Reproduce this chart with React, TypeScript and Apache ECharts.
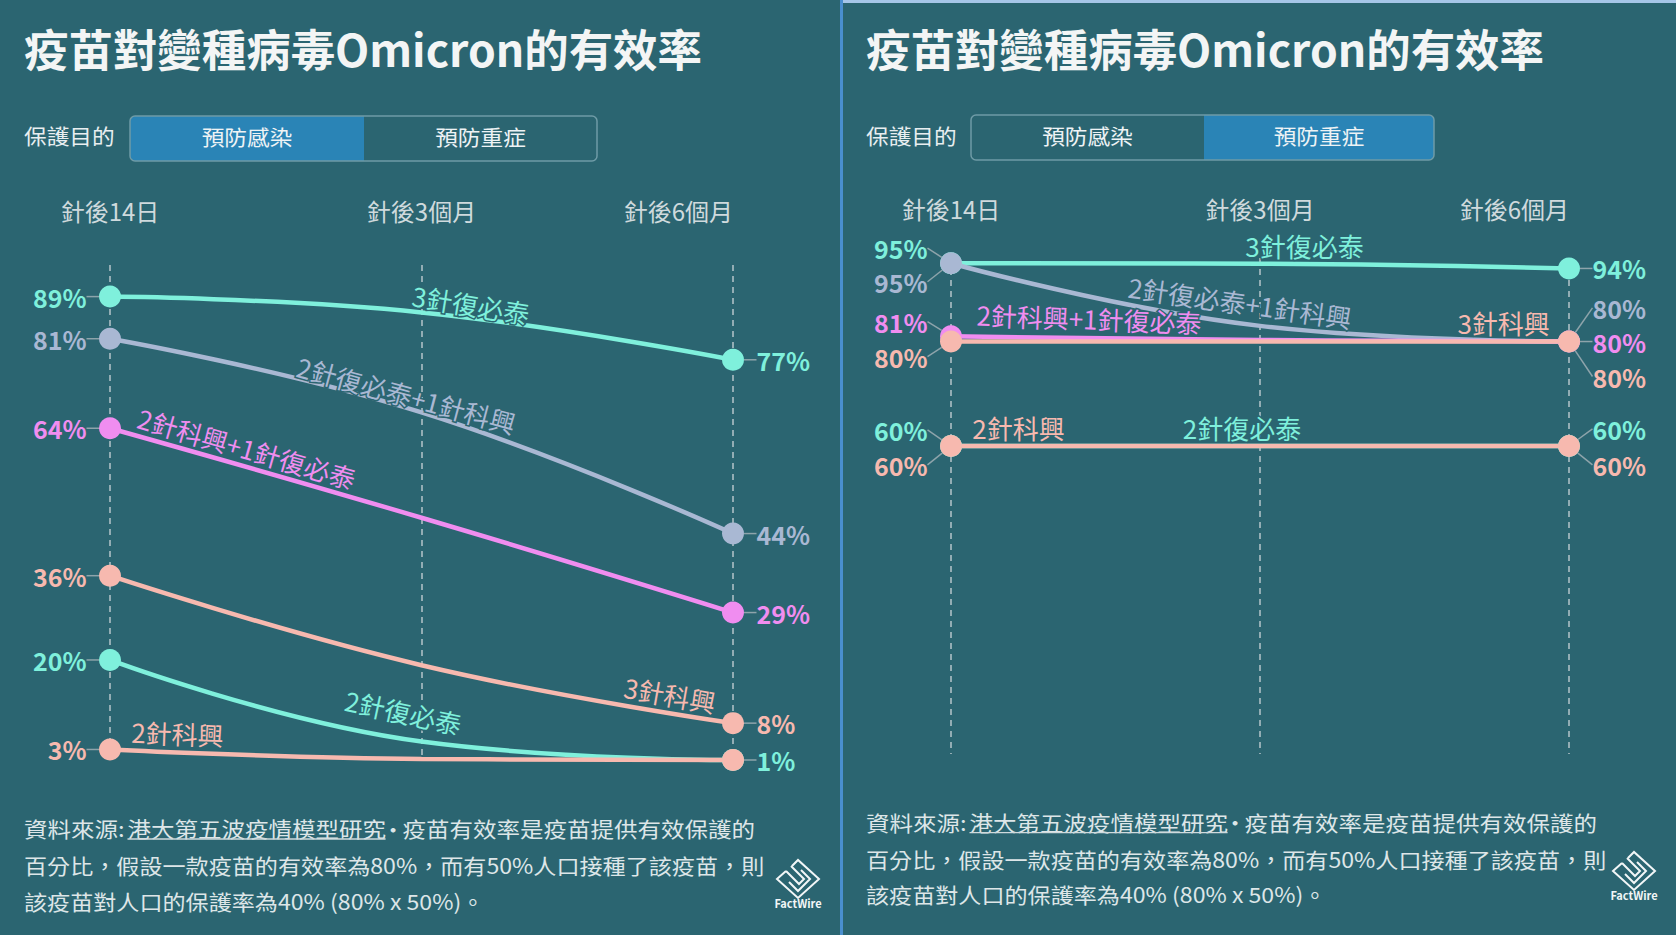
import { useEffect, useRef } from 'react';
import * as echarts from 'echarts';

const periods = ['針後14日', '針後3個月', '針後6個月'];
const vaccineNames = ['3針復必泰', '2針復必泰+1針科興', '2針科興+1針復必泰', '3針科興', '2針復必泰', '2針科興'];

// 預防感染 (%)
const infection3BNT = [89, 86, 77];
const infection2BNT1Sino = [81, 67, 44];
const infection2Sino1BNT = [64, 47, 29];
const infection3Sino = [36, 19, 8];
const infection2BNT = [20, 4.5, 1];
const infection2Sino = [3, 1.2, 1];

// 預防重症 (%)
const severe3BNT = [95, 94.9, 94];
const severe2BNT1Sino = [95, 83, 80];
const severe2Sino1BNT = [81, 80.3, 80];
const severe3Sino = [80, 80, 80];
const severe2BNT = [60, 60, 60];
const severe2Sino = [60, 60, 60];

const title = '疫苗對變種病毒Omicron的有效率';
const purposeLabel = '保護目的';
const toggleLabels = ['預防感染', '預防重症'];
const sourcePrefix = '資料來源:';
const sourceLink = '港大第五波疫情模型研究';
const noteLines = [
  '疫苗有效率是疫苗提供有效保護的',
  '百分比，假設一款疫苗的有效率為80%，而有50%人口接種了該疫苗，則',
  '該疫苗對人口的保護率為40% (80% x 50%)。',
];

const BG = '#2b6571';
const FONT = "'Noto Sans CJK TC', 'Noto Sans CJK SC', 'Noto Sans', sans-serif";
const lineColors = ['#7ff0dc', '#a9b8d3', '#f08df0', '#f7b9af', '#7ff0dc', '#f7b9af'];

interface Panel {
  ox: number;
  values: number[][];
  active: number;
  grid: { left: number; top: number; width: number; height: number };
  yMax: number;
  labelMargin: number;
  // name label placement from the middle point: dx, dy (screen), rotate
  nameShift: number[][];
  startShift: number[];
  endShift: number[];
  hideEnd: boolean[];
  toggle: { x: number; y: number; w: number; split: number };
  noteY: number[];
  logo: [number, number, number];
}

const panels: Panel[] = [
  {
    ox: 24,
    values: [infection3BNT, infection2BNT1Sino, infection2Sino1BNT, infection3Sino, infection2BNT, infection2Sino],
    active: 0,
    grid: { left: 110, top: 265, width: 623, height: 495 },
    yMax: 95,
    labelMargin: 43,
    nameShift: [[49.5, -8.4, -9], [-15, -18, -15], [-174.5, -70, -16], [248.5, 29, -10], [-18, -30, -12], [-244, -26, -2]],
    startShift: [0, 0, 0, 0, 0, 0],
    endShift: [0, 0, 0, 0, 0, 0],
    hideEnd: [false, false, false, false, false, true],
    toggle: { x: 130, y: 116, w: 467, split: 234 },
    noteY: [828, 864.7, 900],
    logo: [798, 879, 903],
  },
  {
    ox: 866,
    values: [severe3BNT, severe2BNT1Sino, severe2Sino1BNT, severe3Sino, severe2BNT, severe2Sino],
    active: 1,
    grid: { left: 951, top: 258, width: 618, height: 496 },
    yMax: 96,
    labelMargin: 38,
    nameShift: [[44.5, -18, 0], [-20, -24, -8], [-171, -22, -2], [243.6, -19, 0], [-18, -18.5, 0], [-241.5, -18.5, 0]],
    startShift: [-15, 18.5, -14.7, 15, -16, 19],
    endShift: [0, -33.6, 0, 35, -17, 19],
    hideEnd: [false, false, false, false, false, false],
    toggle: { x: 971, y: 115, w: 463, split: 233 },
    noteY: [821.7, 858.3, 893.3],
    logo: [1634, 871, 895],
  },
];

function text(x: number, y: number, str: string, size: number, opts: any = {}) {
  const align = opts.align ?? 'left';
  return {
    type: 'text',
    x,
    y,
    scaleX: opts.scaleX ?? 1.1,
    silent: true,
    style: {
      text: str,
      fill: opts.fill ?? '#dde6e8',
      fontSize: size,
      fontWeight: opts.weight ?? 'normal',
      fontFamily: FONT,
      align,
      textAlign: align,
      verticalAlign: 'middle',
      textVerticalAlign: 'middle',
    },
  };
}

function panelGraphics(p: Panel) {
  const x0 = p.ox;
  const t = p.toggle;
  const activeX = p.active === 0 ? t.x : t.x + t.split;
  const activeW = p.active === 0 ? t.split : t.w - t.split;
  const [lx, ly, ty] = p.logo;
  const logoLine = { stroke: '#f2f6f7', lineWidth: 2, fill: 'none' };
  return [
    text(x0, 48, title, 44, { fill: '#f3f5f5', weight: 'bold', scaleX: 1.01 }),
    text(x0, 135, purposeLabel, 21, { fill: '#e8eef0', scaleX: 1.08 }),
    {
      type: 'rect',
      silent: true,
      shape: { x: activeX, y: t.y, width: activeW, height: 45, r: p.active === 0 ? [5, 0, 0, 5] : [0, 5, 5, 0] },
      style: { fill: '#2a84b6' },
    },
    {
      type: 'rect',
      silent: true,
      shape: { x: t.x, y: t.y, width: t.w, height: 45, r: 5 },
      style: { fill: 'none', stroke: '#6f9ba6', lineWidth: 1.5 },
    },
    text(t.x + t.split / 2, t.y + 20, toggleLabels[0], 21, { align: 'center', fill: '#eef3f5', scaleX: 1.08 }),
    text(t.x + t.split + (t.w - t.split) / 2, t.y + 20, toggleLabels[1], 21, { align: 'center', fill: '#eef3f5', scaleX: 1.08 }),
    text(x0, p.noteY[0], sourcePrefix, 21, { scaleX: 1.12 }),
    text(x0 + 103.5, p.noteY[0], sourceLink, 21, { scaleX: 1.12 }),
    {
      type: 'line',
      silent: true,
      shape: { x1: x0 + 103.5, y1: p.noteY[0] + 11, x2: x0 + 361.6, y2: p.noteY[0] + 11 },
      style: { stroke: '#cfdadd', lineWidth: 1.3 },
    },
    text(x0 + 369, p.noteY[0], '•', 21, { align: 'center' }),
    text(x0 + 378.5, p.noteY[0], noteLines[0], 21, { scaleX: 1.12 }),
    text(x0, p.noteY[1], noteLines[1], 21),
    text(x0, p.noteY[2], noteLines[2], 21),
    {
      type: 'group',
      x: lx,
      y: ly,
      silent: true,
      children: [
        { type: 'polyline', shape: { points: [[-6, -13], [0, -19], [21, 0], [0, 19], [-21, 0], [-12, -8]] }, style: logoLine },
        { type: 'polyline', shape: { points: [[-12, -8], [1, 5], [6, 0], [-7, -13]] }, style: logoLine },
        { type: 'polyline', shape: { points: [[-9, 3], [0, 12], [12, 0], [3, -9]] }, style: logoLine },
      ],
    },
    text(lx, ty, 'FactWire', 11, { align: 'center', fill: '#f2f6f7', weight: 'bold', scaleX: 1 }),
  ];
}

function buildSeries(p: Panel, pi: number) {
  return vaccineNames.map((name, si) => {
    const color = lineColors[si];
    const [ndx, ndy, nrot] = p.nameShift[si];
    // the label's offset turns with it, so undo the turn
    const rad = (nrot * Math.PI) / 180;
    const odx = ndx * Math.cos(rad) - ndy * Math.sin(rad);
    const ody = ndx * Math.sin(rad) + ndy * Math.cos(rad);
    return {
      type: 'line',
      name,
      xAxisIndex: pi,
      yAxisIndex: pi,
      smooth: 0.45,
      clip: false,
      silent: true,
      symbol: 'circle',
      symbolSize: 22,
      lineStyle: { color, width: 4.5 },
      itemStyle: { color },
      labelLine: { show: true, lineStyle: { color: '#8ea4ab', width: 1.5 } },
      data: p.values[si].map((v, di) => {
        if (di === 1) {
          return {
            value: v,
            symbolSize: 0,
            label: {
              show: true,
              position: 'inside',
              formatter: name,
              color,
              fontSize: 26,
              fontFamily: FONT,
              textBorderColor: BG,
              textBorderWidth: 3,
            },
            labelLine: { show: false },
          };
        }
        const atStart = di === 0;
        return {
          value: v,
          label: {
            show: atStart || !p.hideEnd[si],
            position: atStart ? 'left' : 'right',
            distance: 12.5,
            formatter: '{c}%',
            color,
            fontSize: 25,
            fontWeight: 'bold',
            fontFamily: FONT,
          },
        };
      }),
      labelLayout: (params: any) => {
        const di = params.dataIndex;
        if (di === 1) return { dx: odx, dy: ody, rotate: nrot };
        return { dy: di === 0 ? p.startShift[si] : p.endShift[si] };
      },
    };
  });
}

function buildOption(): any {
  return {
    animation: false,
    backgroundColor: BG,
    textStyle: { fontFamily: FONT },
    grid: panels.map((p) => ({ ...p.grid, containLabel: false })),
    xAxis: panels.map((p, i) => ({
      type: 'category',
      gridIndex: i,
      data: periods,
      boundaryGap: false,
      position: 'top',
      axisLine: { show: false },
      axisTick: { show: false },
      axisLabel: {
        color: '#cfdadd',
        fontSize: 24,
        fontFamily: FONT,
        margin: p.labelMargin,
        alignMaxLabel: 'right',
      },
      splitLine: { show: true, lineStyle: { color: '#b7c5ca', width: 1.5, type: [6, 5] } },
    })),
    yAxis: panels.map((p, i) => ({ type: 'value', gridIndex: i, min: 1, max: p.yMax, show: false })),
    graphic: [
      { type: 'rect', silent: true, shape: { x: 840, y: 0, width: 3, height: 935 }, style: { fill: '#4a8fcf' } },
      { type: 'rect', silent: true, shape: { x: 843, y: 0, width: 833, height: 3 }, style: { fill: '#a6c6e8' } },
      ...panels.flatMap(panelGraphics),
    ],
    series: panels.flatMap(buildSeries),
  };
}

export default function App() {
  const ref = useRef<HTMLDivElement>(null);

  useEffect(() => {
    document.body.style.margin = '0';
    if (!ref.current) return;
    const chart = echarts.init(ref.current, undefined, { renderer: 'svg' });
    chart.setOption(buildOption());
    return () => {
      chart.dispose();
    };
  }, []);

  return <div ref={ref} style={{ width: 1676, height: 935 }} />;
}
